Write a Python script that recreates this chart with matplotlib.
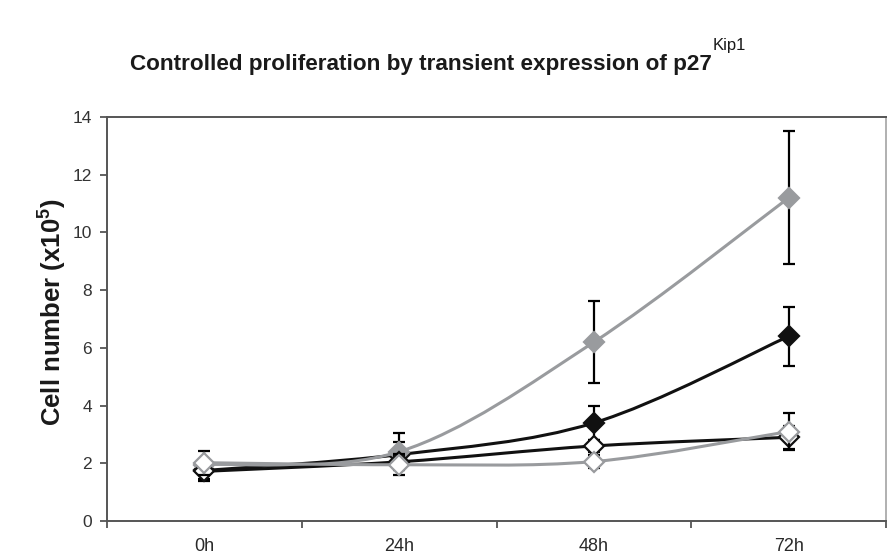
import matplotlib
matplotlib.use('Agg')
import matplotlib.pyplot as plt
from matplotlib.path import Path
from matplotlib.patches import PathPatch
import numpy as np

plt.rcParams['font.family'] = ['Liberation Sans', 'DejaVu Sans']
plt.rcParams['mathtext.fontset'] = 'custom'
plt.rcParams['mathtext.rm'] = 'Liberation Sans'
plt.rcParams['mathtext.bf'] = 'Liberation Sans:bold'

# time points
times = ['0h', '24h', '48h', '72h']

# cell numbers (x10^5) and standard deviations
black_filled = [1.75, 2.30, 3.40, 6.40]
black_filled_sd = [0.30, 0.45, 0.60, 1.03]
gray_filled = [1.95, 2.40, 6.20, 11.20]
gray_filled_sd = [0.10, 0.65, 1.43, 2.30]
black_open = [1.72, 2.05, 2.60, 2.90]
black_open_sd = [0.33, 0.20, 0.20, 0.40]
gray_open = [2.02, 1.95, 2.06, 3.10]
gray_open_sd = [0.42, 0.36, 0.22, 0.65]

GRAY = '#999b9e'
BLACK = '#111111'


def smooth_path(xs, ys):
    # Catmull-Rom style cubic bezier through the points (like Excel's smoothed line)
    pts = np.column_stack([xs, ys]).astype(float)
    n = len(pts)
    verts = [pts[0]]
    codes = [Path.MOVETO]
    for i in range(n - 1):
        p0 = pts[i - 1] if i > 0 else pts[i]
        p1 = pts[i]
        p2 = pts[i + 1]
        p3 = pts[i + 2] if i + 2 < n else pts[i + 1]
        c1 = p1 + (p2 - p0) / 6.0
        c2 = p2 - (p3 - p1) / 6.0
        verts += [c1, c2, p2]
        codes += [Path.CURVE4] * 3
    return Path(verts, codes)


fig = plt.figure(figsize=(8.95, 5.59), dpi=100)
ax = fig.add_axes([0.1196, 0.068, 0.8704, 0.7227])

x = np.arange(len(times))
series = [
    (black_filled, black_filled_sd, BLACK, BLACK),
    (gray_filled, gray_filled_sd, GRAY, GRAY),
    (black_open, black_open_sd, BLACK, 'white'),
    (gray_open, gray_open_sd, GRAY, 'white'),
]

z = 2
for vals, sd, col, face in series:
    ax.add_patch(PathPatch(smooth_path(x, vals), fill=False, edgecolor=col,
                           lw=2.2, zorder=z, capstyle='round'))
    ax.errorbar(x, vals, yerr=sd, fmt='none', ecolor='black', elinewidth=1.6,
                capsize=4.5, capthick=1.6, zorder=z + 0.1)
    ax.plot(x, vals, linestyle='none', marker='D', ms=10, mfc=face, mec=col,
            mew=1.6, zorder=z + 0.2)
    z += 1

ax.set_xlim(-0.5, 3.5)
ax.set_ylim(0, 14)
ax.set_yticks(np.arange(0, 15, 2))
ax.set_xticks(x)
ax.set_xticklabels(times)
ax.set_xticks(np.arange(-0.5, 3.6, 1), minor=True)
ax.tick_params(axis='x', which='major', length=0, pad=12, labelsize=13,
               labelcolor='#2a2a2a')
ax.tick_params(axis='x', which='minor', length=5, width=1.3, color='#555555',
               direction='out')
ax.tick_params(axis='y', length=5, width=1.3, color='#555555', pad=6,
               labelsize=12.5, labelcolor='#333333')

for side in ['left', 'bottom', 'top']:
    ax.spines[side].set_color('#555555')
    ax.spines[side].set_linewidth(1.4)
ax.spines['right'].set_color('#b0b0b0')
ax.spines['right'].set_linewidth(1.4)

fig.text(0.058, 0.442, r'Cell number (x10$^{\mathbf{5}}$)', rotation=90,
         ha='center', va='center', fontsize=18.5, fontweight='bold',
         color='#1a1a1a')

# title with a high superscript drawn as its own text
title = fig.text(130 / 895, 1 - 70 / 559,
                 'Controlled proliferation by transient expression of p27',
                 ha='left', va='baseline', fontsize=16.2, fontweight='bold',
                 color='#1a1a1a')
fig.canvas.draw()
bb = title.get_window_extent()
fig.text((bb.x1 + 1) / 895, 1 - 50 / 559, 'Kip1', ha='left', va='baseline',
         fontsize=12, color='#1a1a1a')

fig.savefig('out.png', dpi=100, facecolor='white')
